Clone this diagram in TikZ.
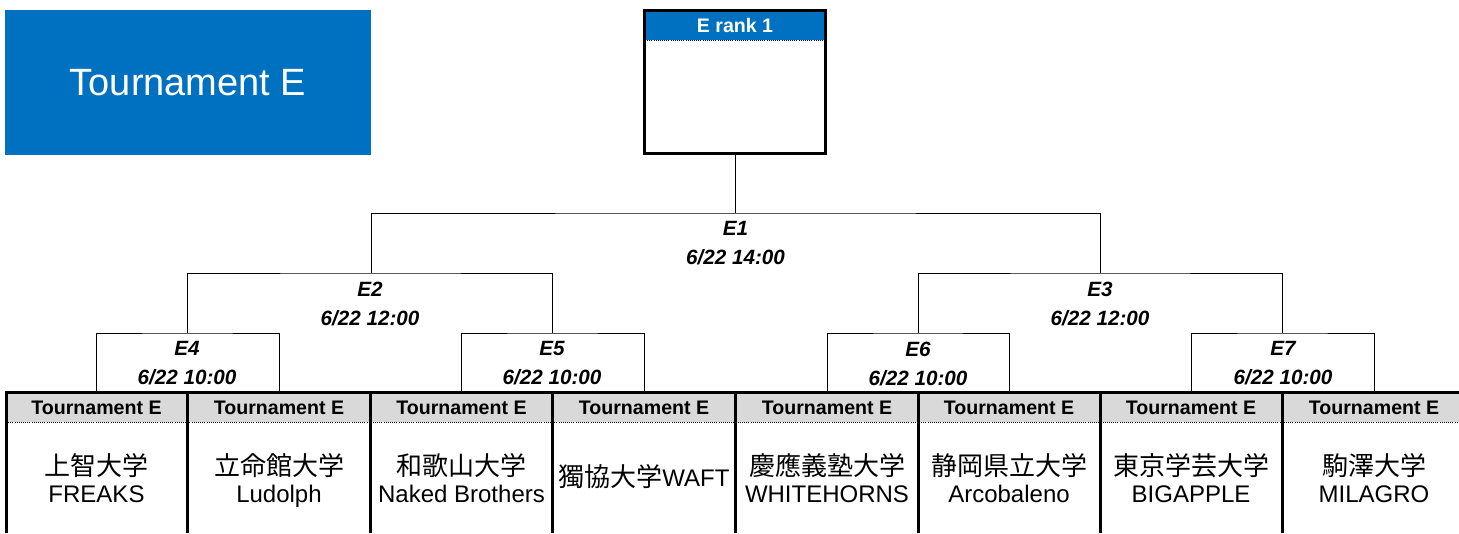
\documentclass[tikz,border=0pt]{standalone}
\usepackage{fontspec}
\setmainfont{Liberation Sans}
\newfontfamily\cjk{Noto Sans CJK JP}
\definecolor{tblue}{HTML}{0070C0}
\definecolor{hgray}{HTML}{D9D9D9}
\begin{document}
\begin{tikzpicture}[x=0.75pt,y=-0.75pt,
  br/.style={line width=0.75pt},
  thk/.style={line width=2.25pt},
  lbl/.style={align=center,font=\fontsize{15.5}{21.75}\selectfont\bfseries\itshape,inner sep=0pt},
  hdr/.style={font=\fontsize{14.7}{17}\selectfont\bfseries,inner sep=0pt},
  team/.style={align=center,font=\fontsize{18}{20.5}\selectfont,inner sep=0pt}]
\useasboundingbox (0,0) rectangle (1459,533);
% title
\node[fill=tblue,text=white,minimum width=274.5pt,minimum height=108.75pt,inner sep=0pt,
  font=\fontsize{28.5}{33}\selectfont] (title) at (188,82.5) {Tournament E};
% rank box
\fill[tblue] (645,11) rectangle (825,40);
\draw[densely dotted,line width=0.6pt] (645,40) -- (825,40);
\node[draw,line width=2.25pt,minimum width=135.75pt,minimum height=107.25pt,inner sep=0pt] (rank) at (735,82) {};
\node[hdr,text=white] (ranklbl) at (735,25) {E rank 1};
% team row
\fill[hgray] (6,393) rectangle (1459,422);
\draw[densely dotted,line width=0.6pt] (6,422) -- (1459,422);
\draw[thk] (4.9,392) -- (1459,392);
\foreach \x in {6,187,370,552,735,918,1100,1282} \draw[thk] (\x,391) -- (\x,533);
% coordinates
\coordinate (m1) at (735,213);
\coordinate (m2) at (371,273);
\coordinate (m3) at (1100,273);
\coordinate (m4) at (187,333);
\coordinate (m5) at (552,333);
\coordinate (m6) at (918,333);
\coordinate (m7) at (1282,333);
\coordinate (t1) at (96.5,392);
\coordinate (t2) at (279,392);
\coordinate (t3) at (461.5,392);
\coordinate (t4) at (644,392);
\coordinate (t5) at (827,392);
\coordinate (t6) at (1009,392);
\coordinate (t7) at (1191,392);
\coordinate (t8) at (1374,392);
% brackets
\draw[br] (rank.south) -- (m1);
\draw[br] (m2) |- (m1) -| (m3);
\draw[br] (m4) |- (m2) -| (m5);
\draw[br] (m6) |- (m3) -| (m7);
\draw[br] (t1) |- (m4) -| (t2);
\draw[br] (t3) |- (m5) -| (t4);
\draw[br] (t5) |- (m6) -| (t6);
\draw[br] (t7) |- (m7) -| (t8);
% labels
\node[lbl] (l1) at (735.5,243.5) {E1\\6/22 14:00};
\node[lbl] (l2) at (370,303.5) {E2\\6/22 12:00};
\node[lbl] (l3) at (1100,303.5) {E3\\6/22 12:00};
\node[lbl] (l4) at (187,363.5) {E4\\6/22 10:00};
\node[lbl] (l5) at (552,363.5) {E5\\6/22 10:00};
\node[lbl] (l6) at (918,363.5) {E6\\6/22 10:00};
\node[lbl] (l7) at (1283,363.5) {E7\\6/22 10:00};
% headers
\foreach \x/\n in {96.5/1,279/2,461.5/3,644/4,827/5,1009/6,1191/7,1374/8}
  \node[hdr] (h\n) at (\x,407.5) {Tournament E};
% teams
\node[team] (n1) at (96.5,482) {\strut{\cjk\fontsize{19.5}{21}\selectfont 上智大学}\\\strut FREAKS};
\node[team] (n2) at (279,482) {\strut{\cjk\fontsize{19.5}{21}\selectfont 立命館大学}\\\strut Ludolph};
\node[team] (n3) at (461.5,482) {\strut{\cjk\fontsize{19.5}{21}\selectfont 和歌山大学}\\\strut Naked Brothers};
\node[team] (n4) at (644,480) {\strut{\cjk\fontsize{19.5}{21}\selectfont 獨協大学}WAFT};
\node[team] (n5) at (827,482) {\strut{\cjk\fontsize{19.5}{21}\selectfont 慶應義塾大学}\\\strut WHITEHORNS};
\node[team] (n6) at (1009,482) {\strut{\cjk\fontsize{19.5}{21}\selectfont 静岡県立大学}\\\strut Arcobaleno};
\node[team] (n7) at (1191,482) {\strut{\cjk\fontsize{19.5}{21}\selectfont 東京学芸大学}\\\strut BIGAPPLE};
\node[team] (n8) at (1374,482) {\strut{\cjk\fontsize{19.5}{21}\selectfont 駒澤大学}\\\strut MILAGRO};
\end{tikzpicture}
\end{document}
